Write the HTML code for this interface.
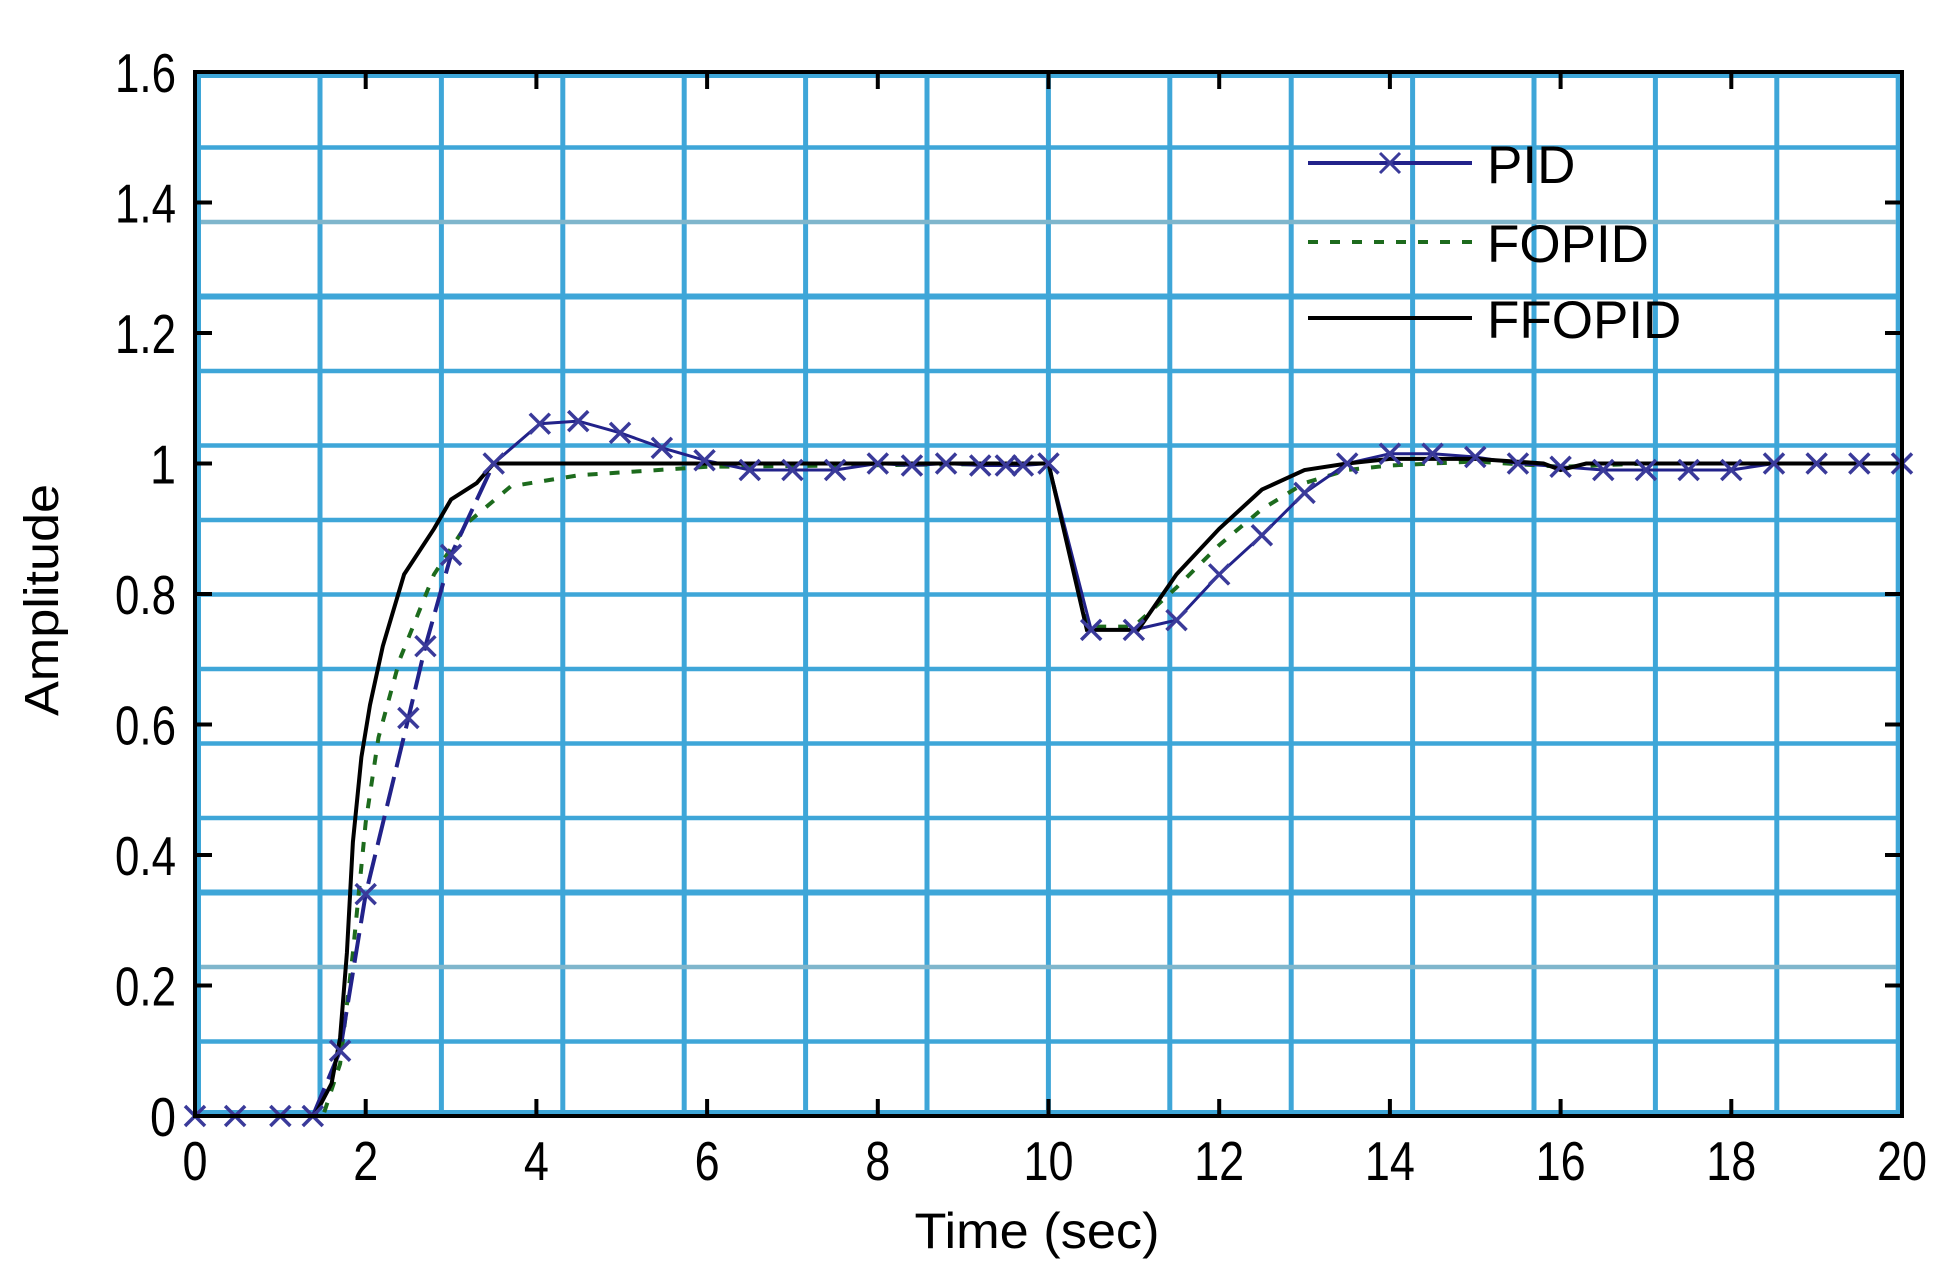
<!DOCTYPE html>
<html><head><meta charset="utf-8"><style>
html,body{margin:0;padding:0;background:#fff;}
svg{display:block;font-family:"Liberation Sans",Arial,sans-serif;}
</style></head><body>
<svg id="s" width="1956" height="1277" viewBox="0 0 1956 1277" xmlns="http://www.w3.org/2000/svg">
<rect width="1956" height="1277" fill="#fff"/>
<g id="grid"></g>
<g id="ticks"></g>
<g id="series"></g>
<rect x="195" y="72" width="1707" height="1044" fill="none" stroke="#000" stroke-width="4"/>
<g id="labels" font-size="55" fill="#000"></g>
<text x="1037" y="1248" font-size="50" text-anchor="middle" textLength="245" lengthAdjust="spacingAndGlyphs">Time (sec)</text>
<text transform="translate(58,600) rotate(-90)" font-size="48" text-anchor="middle" textLength="232" lengthAdjust="spacingAndGlyphs">Amplitude</text>
<g id="legend">
<rect x="1300" y="135" width="400" height="210" fill="none"/>
<line x1="1308" y1="163" x2="1472" y2="163" stroke="#22228a" stroke-width="4"/>
<path d="M1380,153 L1400,173 M1400,153 L1380,173" stroke="#3a3a9a" stroke-width="3"/>
<text x="1487" y="183" font-size="53">PID</text>
<line x1="1308" y1="242" x2="1472" y2="242" stroke="#1d6b1d" stroke-width="4" stroke-dasharray="10,12"/>
<text x="1487" y="262" font-size="53">FOPID</text>
<line x1="1308" y1="318" x2="1472" y2="318" stroke="#000" stroke-width="4"/>
<text x="1487" y="338" font-size="53">FFOPID</text>
</g>
</svg>
<script>
var NS="http://www.w3.org/2000/svg";
var L=195,R=1902,T=72,B=1116;
function X(t){return L+(R-L)*t/20;}
function Y(v){return B-(B-T)*v/1.6;}
function el(p,tag,a){var e=document.createElementNS(NS,tag);for(var k in a)e.setAttribute(k,a[k]);p.appendChild(e);return e;}
var g=document.getElementById('grid');
for(var i=0;i<14;i++){var x=320+121.4*i;if(x>R-3)break;el(g,'line',{x1:x,y1:T,x2:x,y2:B,stroke:'#3ea6d8','stroke-width':5});}
for(var j=1;j<14;j++){var y=B-74.5*j;if(y<T+3)break;var thick=(j==3||j==11);var col=(j==2||j==12)?'#7fb6cc':'#3ea6d8';
el(g,'line',{x1:L,y1:y,x2:R,y2:y,stroke:col,'stroke-width':thick?6:4.5});}
el(g,'line',{x1:L+4,y1:T,x2:L+4,y2:B,stroke:'#3ea6d8','stroke-width':4});
el(g,'line',{x1:L,y1:B-4,x2:R,y2:B-4,stroke:'#3ea6d8','stroke-width':4});
el(g,'line',{x1:R-4,y1:T,x2:R-4,y2:B,stroke:'#3ea6d8','stroke-width':4});
el(g,'line',{x1:L,y1:T+4,x2:R,y2:T+4,stroke:'#3ea6d8','stroke-width':4});
var tk=document.getElementById('ticks'),lb=document.getElementById('labels');
for(var t=0;t<=20;t+=2){var x=X(t);
 if(t>0&&t<20){el(tk,'line',{x1:x,y1:B,x2:x,y2:B-17,stroke:'#000','stroke-width':4});el(tk,'line',{x1:x,y1:T,x2:x,y2:T+17,stroke:'#000','stroke-width':4});}
 var s=String(t);var e=el(lb,'text',{x:x,y:1180,'text-anchor':'middle',textLength:s.length*25,lengthAdjust:'spacingAndGlyphs'});e.textContent=s;}
var yl=['0','0.2','0.4','0.6','0.8','1','1.2','1.4','1.6'];
for(var k=0;k<9;k++){var v=k*0.2,y=Y(v);
 if(k>0&&k<8){el(tk,'line',{x1:L,y1:y,x2:L+17,y2:y,stroke:'#000','stroke-width':4});el(tk,'line',{x1:R,y1:y,x2:R-17,y2:y,stroke:'#000','stroke-width':4});}
 var s=yl[k];var w=s.length==1?26:(s.length*23-8);
 var e=el(lb,'text',{x:176,y:y+20,'text-anchor':'end',textLength:w,lengthAdjust:'spacingAndGlyphs'});e.textContent=s;}
function pts(a){return a.map(function(p){return X(p[0]).toFixed(1)+','+Y(p[1]).toFixed(1);}).join(' ');}
var sr=document.getElementById('series');
var fopid=[[0,0],[1.5,0],[1.7,0.08],[1.85,0.25],[2.0,0.45],[2.15,0.58],[2.4,0.7],[2.8,0.83],[3.2,0.91],[3.7,0.965],[4.5,0.982],[6,0.995],[10,1],[10.45,0.75],[11,0.75],[11.5,0.81],[12,0.875],[12.5,0.93],[13,0.97],[13.5,0.99],[14,0.997],[15,1.003],[16,0.995],[17,1],[20,1]];
var ff=[[0,0],[1.4,0],[1.6,0.05],[1.7,0.12],[1.78,0.25],[1.85,0.42],[1.95,0.55],[2.05,0.63],[2.2,0.72],[2.45,0.83],[2.8,0.9],[3.0,0.945],[3.3,0.97],[3.5,1.0],[10,1.0],[10.45,0.745],[11.05,0.745],[11.5,0.83],[12,0.9],[12.5,0.96],[13,0.99],[13.5,1.0],[14,1.007],[15,1.007],[15.8,1.0],[16,0.99],[16.3,1.0],[20,1.0]];
var pid=[[0,0],[0.47,0],[1.0,0],[1.38,0],[1.7,0.1],[2.0,0.34],[2.5,0.61],[2.7,0.72],[3.0,0.86],[3.5,1.0],[4.04,1.061],[4.49,1.065],[4.98,1.047],[5.47,1.024],[5.97,1.005],[6.5,0.99],[7,0.99],[7.5,0.99],[8,1.0],[8.4,0.997],[8.8,1.0],[9.2,0.997],[9.5,0.997],[9.7,0.997],[10,1.0],[10.5,0.745],[11,0.745],[11.5,0.76],[12,0.83],[12.5,0.89],[13,0.955],[13.5,1.0],[14,1.015],[14.5,1.015],[15,1.01],[15.5,1.0],[16,0.995],[16.5,0.99],[17,0.99],[17.5,0.99],[18,0.99],[18.5,1.0],[19,1.0],[19.5,1.0],[20,1.0]];
el(sr,'polyline',{points:pts(fopid),fill:'none',stroke:'#1d6b1d','stroke-width':4,'stroke-dasharray':'10,12'});
var rise=pid.filter(function(p){return p[0]>=1.38&&p[0]<=3.5;});
el(sr,'polyline',{points:pts(rise),fill:'none',stroke:'#22228a','stroke-width':4,'stroke-dasharray':'30,10'});
el(sr,'polyline',{points:pts(pid.filter(function(p){return p[0]<=1.38;})),fill:'none',stroke:'#22228a','stroke-width':3});
el(sr,'polyline',{points:pts(pid.filter(function(p){return p[0]>=3.5;})),fill:'none',stroke:'#22228a','stroke-width':3});
el(sr,'polyline',{points:pts(ff),fill:'none',stroke:'#000','stroke-width':4});
pid.forEach(function(p){var x=X(p[0]),y=Y(p[1]);el(sr,'path',{d:'M'+(x-10)+','+(y-10)+'L'+(x+10)+','+(y+10)+'M'+(x+10)+','+(y-10)+'L'+(x-10)+','+(y+10),stroke:'#3a3a9a','stroke-width':3.5});});
</script>
</body></html>
